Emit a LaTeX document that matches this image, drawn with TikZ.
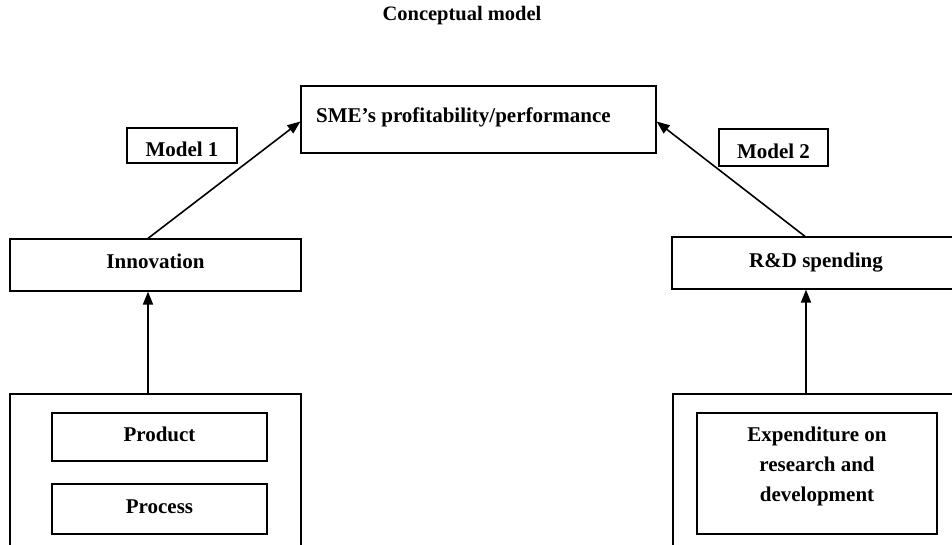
\documentclass[tikz,border=0pt]{standalone}
\usepackage{fontspec}
\setmainfont{Liberation Serif}
\usetikzlibrary{arrows.meta}
\begin{document}
\begin{tikzpicture}[x=1pt,y=-1pt,
  txt/.style={font=\bfseries\fontsize{21}{30}\selectfont, inner sep=0pt},
  lbl/.style={txt, text height=15pt, text depth=7pt},
  mlbl/.style={txt, text height=24pt, text depth=1pt},
  box/.style={draw=black, line width=1.2pt, rectangle, inner sep=0pt},
  arr/.style={draw=black, line width=1.6pt, -{Triangle[length=13pt,width=10pt]}}
]
\useasboundingbox (0,0) rectangle (952,545);
\clip (0,0) rectangle (952,545);
% title
\node[txt, font=\bfseries\fontsize{20.5}{24}\selectfont] (title) at (462,16) {Conceptual model};
% top box
\node[box, minimum width=355pt, minimum height=67pt] (sme) at (478.5,119.5) {};
\node[txt, anchor=west] (smetxt) at (316,117) {SME’s profitability/performance};
% model labels
\node[box, mlbl, minimum width=110pt, minimum height=35pt] (m1) at (182,145.5) {Model 1};
\node[box, mlbl, minimum width=109pt, minimum height=37pt] (m2) at (773.5,147.5) {Model 2};
% middle boxes
\node[box, lbl, minimum width=291pt, minimum height=52pt] (inno) at (155.5,265) {Innovation};
\node[box, lbl, minimum width=288pt, minimum height=52pt] (rd) at (816,263) {R\&D spending};
% outer bottom boxes
\node[box, minimum width=291pt, minimum height=166pt] (outL) at (155.5,477) {};
\node[box, minimum width=288pt, minimum height=166pt] (outR) at (817,477) {};
% inner boxes
\node[box, lbl, minimum width=215pt, minimum height=48pt] (prod) at (159.5,437) {Product};
\node[box, lbl, minimum width=215pt, minimum height=50pt] (proc) at (159.5,509) {Process};
\node[box, minimum width=240pt, minimum height=121pt] (exp) at (817,473.5) {};
\node[txt, align=center] (exptxt) at (817,466.5) {Expenditure on\\research and\\development};
% connectors
\draw[arr] ([xshift=-7.5pt]inno.north) -- ([yshift=-2pt]sme.west);
\draw[arr] ([xshift=-11pt]rd.north) -- ([yshift=-2pt]sme.east);
\draw[arr] ([xshift=-7.5pt]outL.north) -- ([xshift=-7.5pt]inno.south);
\draw[arr] ([xshift=-11pt]outR.north) -- ([xshift=-10pt]rd.south);
\end{tikzpicture}
\end{document}
